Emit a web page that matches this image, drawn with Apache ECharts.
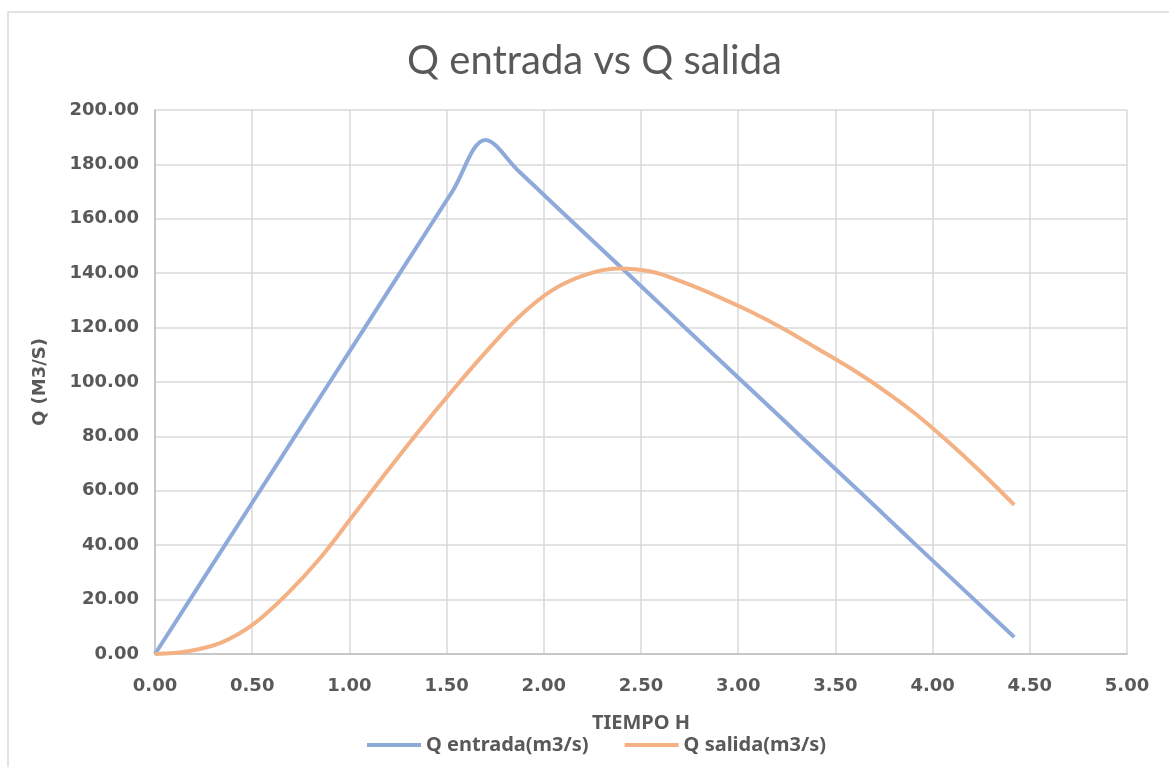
<!DOCTYPE html>
<html>
<head>
<meta charset="utf-8">
<script src="https://cdn.jsdelivr.net/npm/echarts@6/dist/echarts.min.js"></script>
<style>
html,body{margin:0;padding:0;background:#fff;}
#chart{width:1169px;height:767px;}
</style>
</head>
<body>
<div id="chart"></div>
<script>
const timeH = [0, 0.17, 0.34, 0.51, 0.68, 0.85, 1.02, 1.19, 1.36, 1.53, 1.70, 1.87, 2.04, 2.21, 2.38, 2.55, 2.72, 2.89, 3.06, 3.23, 3.40, 3.57, 3.74, 3.91, 4.08, 4.25, 4.42];
const qEntrada = [0, 18.9, 37.8, 56.7, 75.6, 94.5, 113.4, 132.3, 151.2, 170.1, 189.0, 177.6, 166.1, 154.7, 143.3, 131.9, 120.4, 109.0, 97.6, 86.2, 74.7, 63.3, 51.9, 40.4, 29.0, 17.6, 6.2];
const qSalida = [0, 1.0, 4.2, 11.2, 22.1, 35.3, 51.0, 66.8, 82.2, 96.9, 110.9, 123.8, 133.6, 139.3, 141.7, 140.6, 136.6, 131.6, 126.0, 119.7, 112.6, 105.4, 97.4, 88.4, 78.0, 66.8, 54.8];
const seriesNames = ['Q entrada(m3/s)', 'Q salida(m3/s)'];
const titleText = 'Q entrada vs Q salida';
const xName = 'TIEMPO H';
const yName = 'Q (M3/S)';

const chart = echarts.init(document.getElementById('chart'));
const txt = '#595959';
chart.setOption({
  backgroundColor: '#fff',
  animation: false,
  title: {
    text: titleText, left: 402, top: 36,
    textStyle: { fontFamily: 'Lato', fontSize: 40, fontWeight: 'normal', color: txt }
  },
  legend: {
    top: 730, left: 362, itemWidth: 54, itemHeight: 4, itemGap: 36,
    icon: 'rect',
    textStyle: { fontFamily: 'Noto Sans', fontWeight: 'bold', fontSize: 20, color: txt },
    data: seriesNames
  },
  grid: { left: 155, right: 42, top: 110, bottom: 113, containLabel: false },
  xAxis: {
    type: 'value', min: 0, max: 5, interval: 0.5,
    name: xName, nameLocation: 'middle', nameGap: 59,
    nameTextStyle: { fontFamily: 'Noto Sans', fontWeight: 'bold', fontSize: 20, color: txt },
    axisLine: { show: true, lineStyle: { color: '#bfbfbf', width: 1.5 } },
    axisTick: { show: false },
    splitLine: { show: true, lineStyle: { color: '#d9d9d9', width: 1.5 } },
    axisLabel: { formatter: v => v.toFixed(2), margin: 23, fontFamily: 'DejaVu Sans', fontWeight: 'bold', fontSize: 18, color: txt }
  },
  yAxis: {
    type: 'value', min: 0, max: 200, interval: 20,
    name: yName, nameLocation: 'middle', nameGap: 106, nameRotate: 90,
    nameTextStyle: { fontFamily: 'DejaVu Sans', fontWeight: 'bold', fontSize: 18, color: txt },
    axisLine: { show: true, lineStyle: { color: '#bfbfbf', width: 1.5 } },
    axisTick: { show: false },
    splitLine: { show: true, lineStyle: { color: '#d9d9d9', width: 1.5 } },
    axisLabel: { formatter: v => v.toFixed(2), margin: 16, fontFamily: 'DejaVu Sans', fontWeight: 'bold', fontSize: 18, color: txt }
  },
  graphic: [{
    type: 'rect', silent: true, z: -1,
    shape: { x: 8, y: 12, width: 1300, height: 900 },
    style: { fill: 'none', stroke: '#d9d9d9', lineWidth: 1.5 }
  }],
  series: [
    {
      name: seriesNames[0], type: 'line', smooth: 0.35, showSymbol: false,
      data: timeH.map((t, i) => [t, qEntrada[i]]),
      lineStyle: { color: '#8eaadb', width: 4 }, itemStyle: { color: '#8eaadb' }
    },
    {
      name: seriesNames[1], type: 'line', smooth: 0.35, showSymbol: false,
      data: timeH.map((t, i) => [t, qSalida[i]]),
      lineStyle: { color: '#f4b183', width: 4 }, itemStyle: { color: '#f4b183' }
    }
  ]
});
</script>
</body>
</html>
